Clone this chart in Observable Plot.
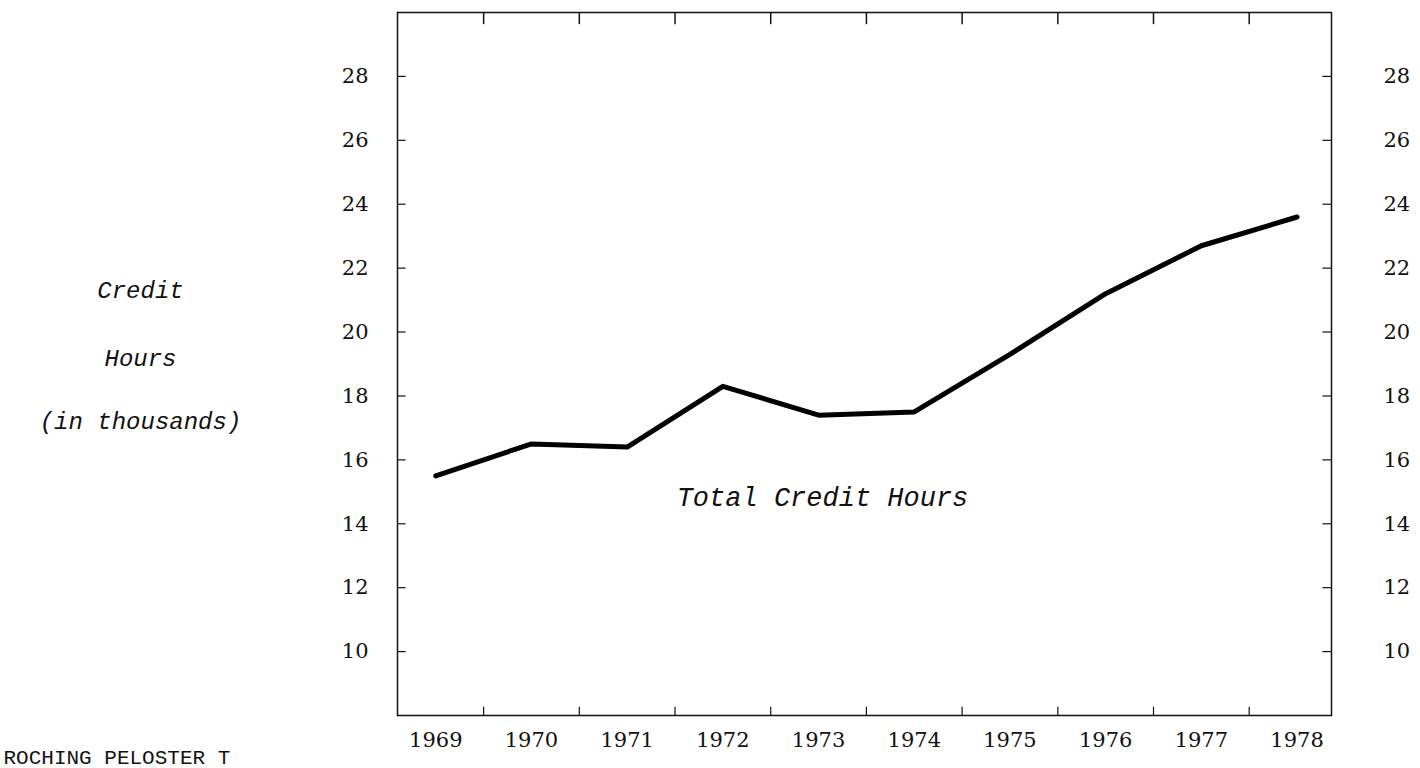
<!DOCTYPE html>
<html>
<head>
<meta charset="utf-8">
<script src="https://cdn.jsdelivr.net/npm/d3@7"></script>
<script src="https://cdn.jsdelivr.net/npm/@observablehq/plot@0.6"></script>
<style>
  html, body { margin: 0; padding: 0; background: #fff; overflow: hidden; }
  #chart svg { display: block; }
</style>
</head>
<body>
<div id="chart"></div>
<script>
// ---- data ----
const years = [1969, 1970, 1971, 1972, 1973, 1974, 1975, 1976, 1977, 1978];
const creditHours = [15.5, 16.5, 16.4, 18.3, 17.4, 17.5, 19.3, 21.2, 22.7, 23.6]; // thousands
const yTicks = [10, 12, 14, 16, 18, 20, 22, 24, 26, 28];
const xTickMarks = [1969.5, 1970.5, 1971.5, 1972.5, 1973.5, 1974.5, 1975.5, 1976.5, 1977.5];
const yLabelLines = ["Credit", "Hours", "(in thousands)"];
const seriesLabel = "Total Credit Hours";
const footerText = "ROCHING PELOSTER T";

const rows = years.map((year, i) => ({year, value: creditHours[i]}));

const xDomain = [1968.6, 1978.36];
const yDomain = [8, 30];

const numFont = "'DejaVu Serif', serif";
const typeFont = "'Liberation Mono', 'DejaVu Sans Mono', monospace";
const yLabelOffsets = [-74, -6, 57];

const chart = Plot.plot({
  width: 1420,
  height: 768,
  marginLeft: 397,
  marginRight: 89,
  marginTop: 12,
  marginBottom: 53,
  x: {domain: xDomain, label: null},
  y: {domain: yDomain, label: null},
  style: {background: "#fff", color: "#111"},
  marks: [
    Plot.frame({stroke: "#111", strokeWidth: 1.5}),
    // inward tick marks
    Plot.ruleY(yTicks, {y: d => d, x1: xDomain[0], x2: xDomain[0] + 0.09, stroke: "#111", strokeWidth: 1.2}),
    Plot.ruleY(yTicks, {y: d => d, x1: xDomain[1] - 0.09, x2: xDomain[1], stroke: "#111", strokeWidth: 1.2}),
    Plot.ruleX(xTickMarks, {x: d => d, y1: yDomain[0], y2: yDomain[0] + 0.26, stroke: "#111", strokeWidth: 1.2}),
    Plot.ruleX(xTickMarks, {x: d => d, y1: yDomain[1] - 0.38, y2: yDomain[1], stroke: "#111", strokeWidth: 1.5}),
    // axes labels
    Plot.axisY(yTicks, {anchor: "left", tickSize: 0, tickPadding: 29, fontSize: 21, fontFamily: numFont, label: null}),
    Plot.axisY(yTicks, {anchor: "right", tickSize: 0, tickPadding: 52, fontSize: 21, fontFamily: numFont, label: null}),
    Plot.axisX(years, {anchor: "bottom", tickSize: 0, tickPadding: 17, fontSize: 21, fontFamily: numFont, tickFormat: d => String(d), label: null}),
    // series
    Plot.line(rows, {x: "year", y: "value", stroke: "#000", strokeWidth: 5, strokeLinejoin: "round", strokeLinecap: "round"}),
    // annotations
    ...yLabelLines.map((t, i) => Plot.text([t], {
      text: d => d, frameAnchor: "left", textAnchor: "middle", dx: -257, dy: yLabelOffsets[i],
      fontSize: 24, fontStyle: "italic", fontFamily: typeFont, fill: "#111"
    })),
    Plot.text([seriesLabel], {
      text: d => d, frameAnchor: "middle", dx: -42, dy: 133,
      fontSize: 27, fontStyle: "italic", fontFamily: typeFont, fill: "#111"
    }),
    Plot.text([footerText], {
      text: d => d, frameAnchor: "bottom-left", dx: -394, dy: 48, textAnchor: "start", lineAnchor: "bottom",
      fontSize: 21, fontFamily: typeFont, fill: "#111"
    })
  ]
});
document.getElementById("chart").appendChild(chart);
</script>
</body>
</html>
